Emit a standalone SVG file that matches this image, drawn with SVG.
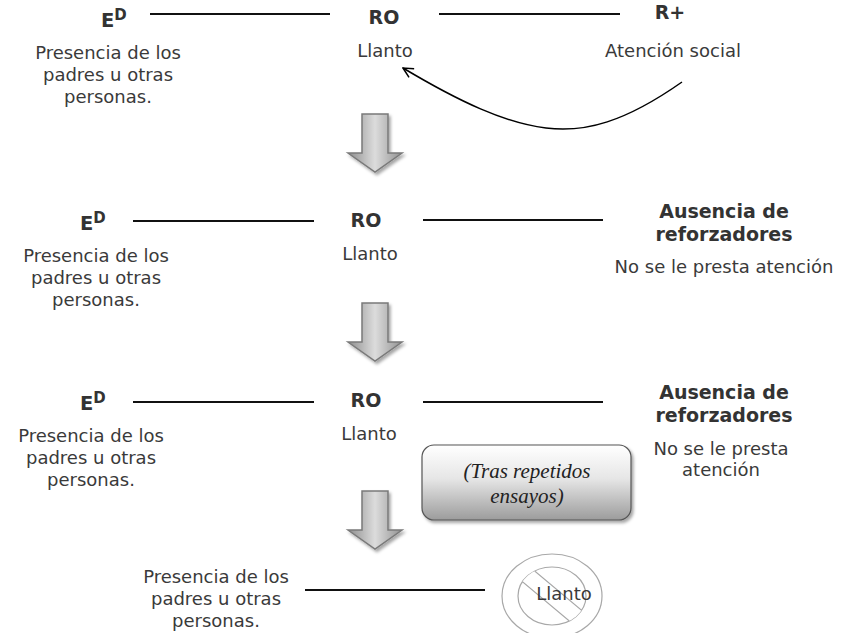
<svg xmlns="http://www.w3.org/2000/svg" xmlns:xlink="http://www.w3.org/1999/xlink" width="852" height="633" viewBox="0 0 852 633">
<style>
.t{font-family:"DejaVu Sans","Liberation Sans",sans-serif;font-size:18px;fill:#3a3a3a;text-anchor:middle}
.b{font-family:"DejaVu Sans","Liberation Sans",sans-serif;font-size:19px;font-weight:bold;fill:#333;text-anchor:middle}
.e{font-family:"DejaVu Sans","Liberation Sans",sans-serif;font-size:19.5px;font-weight:bold;fill:#333}
.sup{font-size:15px}
.ln{stroke:#111;stroke-width:2}
.it{font-family:"Liberation Serif","Times New Roman",serif;font-style:italic;font-size:21px;fill:#222;text-anchor:middle}
</style>
<defs>
<linearGradient id="ag" x1="0" y1="0" x2="1" y2="0">
<stop offset="0" stop-color="#8e8e8e"/><stop offset="0.5" stop-color="#dcdcdc"/><stop offset="1" stop-color="#929292"/>
</linearGradient>
<linearGradient id="bg" x1="0" y1="0" x2="0" y2="1">
<stop offset="0" stop-color="#ffffff"/><stop offset="0.45" stop-color="#e6e6e6"/><stop offset="1" stop-color="#9c9c9c"/>
</linearGradient>
<filter id="sh" x="-20%" y="-20%" width="150%" height="150%">
<feDropShadow dx="2" dy="2.5" stdDeviation="1.5" flood-color="#000" flood-opacity="0.35"/>
</filter>
<path id="bigArrow" d="M362,0 H388 V39 H402 L375,58 L348,39 H362 Z" fill="url(#ag)" stroke="#7a7a7a" stroke-width="1.5" stroke-linejoin="miter"/>
<marker id="open" viewBox="0 0 12 12" refX="11" refY="6" markerWidth="12" markerHeight="12" markerUnits="userSpaceOnUse" orient="auto">
<path d="M1,1 L11,6 L1,11" fill="none" stroke="#000" stroke-width="1.5"/>
</marker>
<clipPath id="inner"><ellipse cx="552" cy="596" rx="34" ry="29"/></clipPath>
</defs>

<g id="connectors">
<line class="ln" x1="150" y1="14" x2="330" y2="14"/>
<line class="ln" x1="439" y1="14" x2="620" y2="14"/>
<path d="M682,82 C625,122 585,133 546,128 C505,123 460,102 403,68" fill="none" stroke="#000" stroke-width="1.5" marker-end="url(#open)"/>
<line class="ln" x1="133" y1="221" x2="314" y2="221"/>
<line class="ln" x1="423" y1="220" x2="603" y2="220"/>
<line class="ln" x1="133" y1="402" x2="314" y2="402"/>
<line class="ln" x1="423" y1="402" x2="603" y2="402"/>
<line class="ln" x1="305" y1="590" x2="485" y2="590"/>
<g filter="url(#sh)">
<use xlink:href="#bigArrow" y="114"/>
<use xlink:href="#bigArrow" y="303"/>
<use xlink:href="#bigArrow" y="491"/>
</g>
</g>

<g id="row1">
<g id="ed1"><text class="e" x="101" y="27">E<tspan class="sup" dy="-7">D</tspan></text></g>
<g id="ro1"><text class="b" x="384" y="24">RO</text><text class="t" x="385" y="57">Llanto</text></g>
<g id="rplus"><text class="b" x="670" y="19">R+</text><text class="t" x="673" y="57">Atención social</text></g>
<g id="pres1"><text class="t" x="108" y="59">Presencia de los</text><text class="t" x="108" y="81">padres u otras</text><text class="t" x="108" y="103">personas.</text></g>
</g>

<g id="row2">
<g id="ed2"><text class="e" x="80" y="230">E<tspan class="sup" dy="-7">D</tspan></text></g>
<g id="ro2"><text class="b" x="366" y="227">RO</text><text class="t" x="370" y="260">Llanto</text></g>
<g id="aus2"><text class="b" x="724" y="218">Ausencia de</text><text class="b" x="724" y="241">reforzadores</text><text class="t" x="724" y="273">No se le presta atención</text></g>
<g id="pres2"><text class="t" x="96" y="262">Presencia de los</text><text class="t" x="96" y="284">padres u otras</text><text class="t" x="96" y="306">personas.</text></g>
</g>

<g id="row3">
<g id="ed3"><text class="e" x="80" y="410">E<tspan class="sup" dy="-7">D</tspan></text></g>
<g id="ro3"><text class="b" x="366" y="407">RO</text><text class="t" x="369" y="440">Llanto</text></g>
<g id="aus3"><text class="b" x="724" y="399">Ausencia de</text><text class="b" x="724" y="422">reforzadores</text><text class="t" x="721" y="455">No se le presta</text><text class="t" x="721" y="476">atención</text></g>
<g id="pres3"><text class="t" x="91" y="442">Presencia de los</text><text class="t" x="91" y="464">padres u otras</text><text class="t" x="91" y="486">personas.</text></g>
<g id="tras"><rect x="422" y="445" width="209" height="75" rx="12" fill="url(#bg)" stroke="#555" stroke-width="1.2" filter="url(#sh)"/><text class="it" x="527" y="478">(Tras repetidos</text><text class="it" x="527" y="503">ensayos)</text></g>
</g>

<g id="row4">
<g id="pres4"><text class="t" x="216" y="583">Presencia de los</text><text class="t" x="216" y="605">padres u otras</text><text class="t" x="216" y="627">personas.</text></g>
<g id="nollanto">
<path d="M502,596 a50,42 0 1,0 100,0 a50,42 0 1,0 -100,0 Z M518,596 a34,29 0 1,0 68,0 a34,29 0 1,0 -68,0 Z" fill="#fff" fill-rule="evenodd" stroke="#a8a8a8" stroke-width="1.2"/>
<g clip-path="url(#inner)"><rect x="510" y="588" width="84" height="16" transform="rotate(40 552 596)" fill="#fff" stroke="#a8a8a8" stroke-width="1.2"/></g>
<text class="t" x="564" y="600">Llanto</text>
</g>
</g>
</svg>
